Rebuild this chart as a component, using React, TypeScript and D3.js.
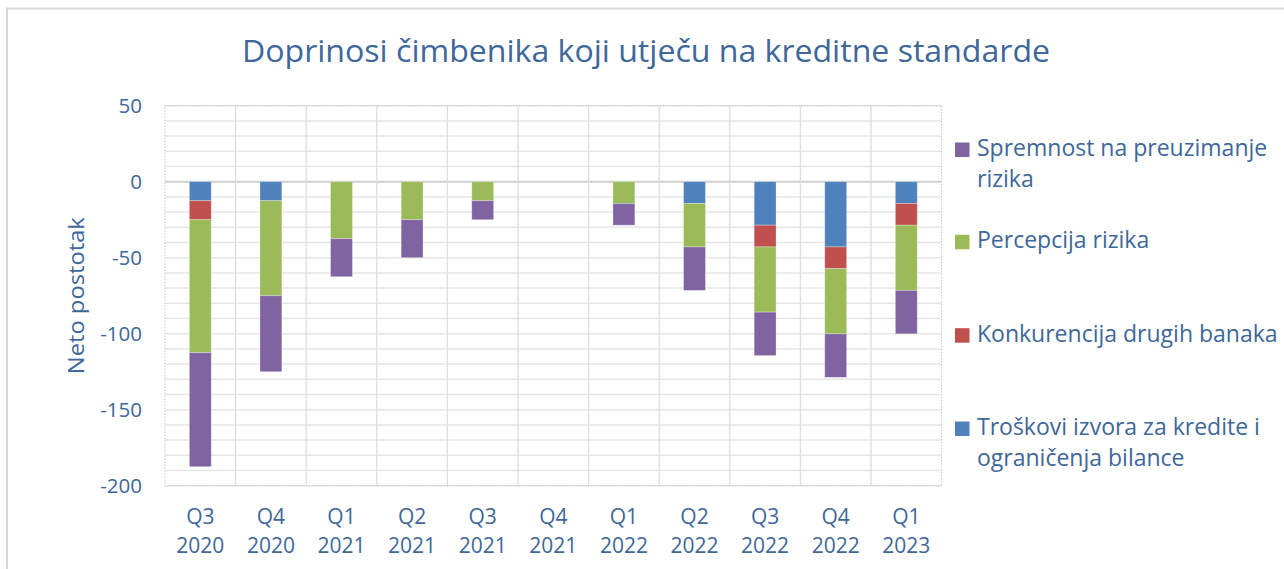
import React from "react";
import * as d3 from "d3";

const categories = ["Q3 2020", "Q4 2020", "Q1 2021", "Q2 2021", "Q3 2021", "Q4 2021", "Q1 2022", "Q2 2022", "Q3 2022", "Q4 2022", "Q1 2023"];
const troskovi = [-12.5, -12.5, 0, 0, 0, 0, 0, -14.3, -28.6, -42.9, -14.3];
const konkurencija = [-12.5, 0, 0, 0, 0, 0, 0, 0, -14.3, -14.3, -14.3];
const percepcija = [-87.5, -62.5, -37.5, -25, -12.5, 0, -14.3, -28.6, -42.9, -42.9, -42.9];
const spremnost = [-75, -50, -25, -25, -12.5, 0, -14.3, -28.6, -28.6, -28.6, -28.6];
const yTicks = [50, 0, -50, -100, -150, -200];

const seriesKeys = ["troskovi", "konkurencija", "percepcija", "spremnost"];
const seriesColors: Record<string, string> = {
  troskovi: "#4F81BD",
  konkurencija: "#C0504D",
  percepcija: "#9BBB59",
  spremnost: "#8064A2",
};
const legendItems = [
  { key: "spremnost", lines: ["Spremnost na preuzimanje", "rizika"] },
  { key: "percepcija", lines: ["Percepcija rizika"] },
  { key: "konkurencija", lines: ["Konkurencija drugih banaka"] },
  { key: "troskovi", lines: ["Troškovi izvora za kredite i", "ograničenja bilance"] },
];

const TEXT = "#3E679A";
const FONT = "'Open Sans', 'Noto Sans', sans-serif";

export default function App() {
  const W = 1284, H = 569;
  const left = 165, right = 941.6, top = 105.7, bottom = 485.7;

  const rows = categories.map((c, i) => ({
    cat: c,
    troskovi: troskovi[i],
    konkurencija: konkurencija[i],
    percepcija: percepcija[i],
    spremnost: spremnost[i],
  }));
  const stack = d3.stack<any>().keys(seriesKeys).offset(d3.stackOffsetDiverging);
  const layers = stack(rows);

  const x = d3.scaleBand<string>().domain(categories).range([left, right]).paddingInner(0.69).paddingOuter(0.345);
  const xCell = d3.scaleBand<string>().domain(categories).range([left, right]).padding(0);
  const y = d3.scaleLinear().domain([-200, 50]).range([bottom, top]);
  const minor = d3.range(-200, 51, 10);

  const legendBaselines = [156, 248.3, 341.7, 435];

  return (
    <svg width={W} height={H} style={{ position: "absolute", left: 0, top: 0, background: "#fff" }} fontFamily={FONT}>
      <rect x={7} y={8.5} width={W + 20} height={H + 20} fill="#fff" stroke="#d9d9d9" strokeWidth={2} />
      <text x={646} y={62} textAnchor="middle" fontSize={30.5} fill={TEXT} textLength={808} lengthAdjust="spacingAndGlyphs">
        Doprinosi čimbenika koji utječu na kreditne standarde
      </text>

      {/* horizontal gridlines */}
      {minor.map((v) => (
        <line key={"h" + v} x1={left} x2={right} y1={y(v)} y2={y(v)} stroke={v === 0 ? "#d0d0d0" : "#e6e6e6"} strokeWidth={v === 0 ? 2 : 1.5} />
      ))}
      {/* vertical category separators */}
      {categories.slice(1).map((c) => (
        <line key={"v" + c} x1={xCell(c)!} x2={xCell(c)!} y1={top} y2={bottom} stroke="#dedede" strokeWidth={1.3} />
      ))}
      {/* dotted plot border */}
      <rect x={left} y={top} width={right - left} height={bottom - top} fill="none" stroke="#cfcfcf" strokeWidth={1.2} strokeDasharray="1.5,1.5" />

      {/* bars */}
      {layers.map((layer) => (
        <g key={layer.key} fill={seriesColors[layer.key]}>
          {layer.map((d, i) => {
            const y0 = y(d[0]), y1 = y(d[1]);
            const h = Math.abs(y1 - y0);
            if (h < 0.01) return null;
            return (
              <rect key={i} x={x(categories[i])!} width={x.bandwidth()} y={Math.min(y0, y1)} height={h} stroke="rgba(255,255,255,0.35)" strokeWidth={0.8} />
            );
          })}
        </g>
      ))}

      {/* y ticks */}
      {yTicks.map((t) => (
        <text key={"yt" + t} x={142} y={y(t) + 7.2} textAnchor="end" fontSize={20.5} fill={TEXT}>
          {t}
        </text>
      ))}
      <text transform={`translate(84, ${(top + bottom) / 2}) rotate(-90)`} textAnchor="middle" fontSize={22} fill={TEXT} textLength={157} lengthAdjust="spacingAndGlyphs">
        Neto postotak
      </text>

      {/* x labels */}
      {categories.map((c) => {
        const [q, yr] = c.split(" ");
        const cx = xCell(c)! + xCell.bandwidth() / 2;
        return (
          <g key={"xl" + c}>
            <text x={cx} y={524.3} textAnchor="middle" fontSize={21} fill={TEXT}>{q}</text>
            <text x={cx} y={553.3} textAnchor="middle" fontSize={21} fill={TEXT}>{yr}</text>
          </g>
        );
      })}

      {/* legend */}
      {legendItems.map((it, i) => (
        <g key={"lg" + it.key}>
          <rect x={955} y={legendBaselines[i] - 13.5} width={14.5} height={14.5} fill={seriesColors[it.key]} />
          {it.lines.map((ln, j) => (
            <text key={j} x={977} y={legendBaselines[i] + j * 31} fontSize={23} fill={TEXT}>{ln}</text>
          ))}
        </g>
      ))}
    </svg>
  );
}
